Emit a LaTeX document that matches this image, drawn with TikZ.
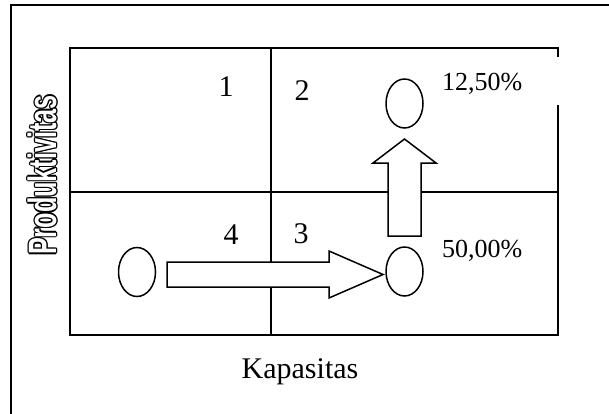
\documentclass[tikz,border=0pt]{standalone}
\usepackage{fontspec}
\setmainfont{Liberation Serif}
\newfontfamily\prodfont{Liberation Sans}
\usetikzlibrary{shapes.geometric}
\tikzset{
  frameline/.style={line width=2.4pt},
  boxline/.style={line width=2pt},
  midline/.style={line width=1.4pt},
  blockarrow/.style={draw, fill=white, line width=1.5pt, line join=miter},
  blob/.style={ellipse, draw, fill=white, line width=1.5pt, inner sep=0pt,
               minimum width=37pt, minimum height=49pt},
  quadnum/.style={anchor=base, inner sep=0pt, font=\fontsize{30}{34}\selectfont},
  pct/.style={anchor=base west, inner sep=0pt, font=\fontsize{26}{30}\selectfont},
  axislabel/.style={anchor=base, inner sep=0pt, font=\fontsize{30}{34}\selectfont},
  prodtext/.style={inner sep=0pt, font=\prodfont\bfseries\fontsize{36}{40}\selectfont}
}
\newcommand{\prodlabel}{\rotatebox{90}{\scalebox{0.7}[1.1]{Produktivitas}}}
\begin{document}
\begin{tikzpicture}[x=1pt,y=-1pt]
  \useasboundingbox (0,0) rectangle (609,414);

  % outer frame, running off the page on the right and bottom
  \begin{scope}
    \clip (0,0) rectangle (609,414);
    \draw[frameline] (11,5) rectangle (660,460);
  \end{scope}

  % quadrant grid
  \draw[boxline] (70,48) rectangle (558,335);
  \coordinate (hL) at (70,192);
  \coordinate (hR) at (558,192);
  \coordinate (vT) at (271,48);
  \coordinate (vB) at (271,335);
  \draw[midline] (hL) -- (hR);
  \draw[midline] (vT) -- (vB);

  % white text box of the upper percentage
  \fill[white] (432,57) rectangle (566,105);

  % block arrows
  \draw[blockarrow] (388,236) -- (388,163) -- (373,163) -- (404.5,139)
                    -- (436,163) -- (421,163) -- (421,236) -- cycle;
  \draw[blockarrow] (167,262) -- (329,262) -- (329,251) -- (383,274.5)
                    -- (329,298) -- (329,287) -- (167,287) -- cycle;

  % positions
  \node[blob] (start) at (137,272) {};
  \node[blob] (low)   at (404.5,271.5) {};
  \node[blob] (high)  at (404.5,103.5) {};

  % quadrant numbers
  \node[quadnum] (q1) at (226,97)  {1};
  \node[quadnum] (q2) at (302,101) {2};
  \node[quadnum] (q3) at (301,243) {3};
  \node[quadnum] (q4) at (231,244) {4};

  % percentages
  \node[pct] (p1) at (442,91)  {12,50\%};
  \node[pct] (p2) at (442,257) {50,00\%};

  % axis labels
  \node[axislabel] (xlab) at (300,378) {Kapasitas};
  \foreach \dx/\dy in {1.3/0,-1.3/0,0/1.3,0/-1.3,0.9/0.9,-0.9/0.9,0.9/-0.9,-0.9/-0.9}
    \node[prodtext, text=black] at (42+\dx,175+\dy) {\prodlabel};
  \node[prodtext, text=white] (ylab) at (42,175) {\prodlabel};
\end{tikzpicture}
\end{document}
